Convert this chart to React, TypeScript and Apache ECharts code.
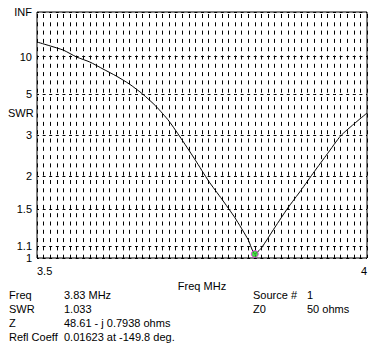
import React, { useEffect, useRef } from "react";
import * as echarts from "echarts";

// Frequency sweep (MHz) and SWR
const freqs = [
  3.5, 3.52, 3.54, 3.56, 3.58, 3.6, 3.62, 3.64, 3.66, 3.68, 3.7, 3.72, 3.74,
  3.76, 3.78, 3.8, 3.82, 3.83, 3.84, 3.86, 3.88, 3.9, 3.92, 3.94, 3.96, 3.98, 4.0,
];
const swrValues = [
  15.4, 13.5, 11.9, 9.93, 8.84, 7.63, 6.69, 5.83, 5.0, 4.23, 3.51, 2.84, 2.32,
  1.91, 1.63, 1.39, 1.16, 1.033, 1.085, 1.28, 1.51, 1.76, 2.08, 2.47, 2.97, 3.39, 3.87,
];

// SWR tick labels on the left axis (INF = infinite)
const swrTickLabels = ["INF", "10", "5", "3", "2", "1.5", "1.1", "1"];
const freqTickLabels = [3.5, 4];

// Marker
const markerFreq = 3.83;
const markerSwr = 1.033;

// Readout block
const readoutLabels = ["Freq", "SWR", "Z", "Refl Coeff"];
const readoutValues = ["3.83 MHz", "1.033", "48.61 - j 0.7938 ohms", "0.01623 at -149.8 deg."];
const sourceLabels = ["Source #", "Z0"];
const sourceValues = ["1", "50 ohms"];

const toRho = (s: number | string) => {
  if (s === "INF") return 1;
  const v = Number(s);
  return (v - 1) / (v + 1);
};

export default function App() {
  const ref = useRef<HTMLDivElement>(null);
  useEffect(() => {
    if (!ref.current) return;
    const chart = echarts.init(ref.current, null, { renderer: "svg" });
    const tickRho = swrTickLabels.map(toRho);
    const font = "'Liberation Sans', Arial, sans-serif";
    const txt = (x: number, y: number, text: string) => ({
      type: "text",
      x,
      y,
      style: { text, fill: "#000", font: `11px ${font}`, verticalAlign: "middle", align: "left" },
    });
    const rowY = [295, 309, 323, 337];
    const graphics: any[] = [txt(8, 113, "SWR")];
    readoutLabels.forEach((l, i) => graphics.push(txt(9, rowY[i], l)));
    readoutValues.forEach((l, i) => graphics.push(txt(64, rowY[i], l)));
    sourceLabels.forEach((l, i) => graphics.push(txt(253, rowY[i], l)));
    sourceValues.forEach((l, i) => graphics.push(txt(307, rowY[i], l)));

    chart.setOption({
      animation: false,
      backgroundColor: "#fff",
      textStyle: { fontFamily: font },
      grid: {
        left: 37,
        top: 12,
        right: 10,
        bottom: 93,
        show: true,
        borderColor: "#000",
        borderWidth: 1,
        backgroundColor: "#fff",
      },
      xAxis: {
        type: "value",
        min: 3.5,
        max: 4,
        interval: 0.01,
        name: "Freq MHz",
        nameLocation: "middle",
        nameGap: 7,
        nameTextStyle: { color: "#000", fontSize: 11, verticalAlign: "top" },
        axisLine: { show: false },
        axisTick: { show: false },
        axisLabel: {
          customValues: freqTickLabels,
          color: "#000",
          fontSize: 11,
          margin: 7,
          alignMinLabel: "left",
          alignMaxLabel: "right",
          formatter: (v: number) => String(Math.round(v * 100) / 100),
        },
        splitLine: {
          show: true,
          lineStyle: { color: "#000", width: 1, type: [4, 4.3], dashOffset: -2 },
        },
      },
      yAxis: {
        type: "value",
        min: 0,
        max: 1,
        axisLine: { show: false },
        axisTick: { show: false, customValues: tickRho },
        axisLabel: {
          customValues: tickRho,
          color: "#000",
          fontSize: 11,
          margin: 5,
          formatter: (v: number) => {
            const i = tickRho.findIndex((r) => Math.abs(r - v) < 1e-6);
            return i >= 0 ? swrTickLabels[i] : "";
          },
        },
        splitLine: {
          show: true,
          lineStyle: { color: "#000", width: 1, type: [3, 3.6], dashOffset: 1 },
        },
      },
      series: [
        {
          type: "line",
          data: freqs.map((f, i) => [f, toRho(swrValues[i])]),
          showSymbol: false,
          smooth: 0.2,
          lineStyle: { color: "#000", width: 1 },
          z: 3,
        },
        {
          type: "scatter",
          data: [[markerFreq, toRho(markerSwr)]],
          symbol: "circle",
          symbolSize: 7,
          itemStyle: { color: "#22cc22", borderColor: "#ee22ee", borderWidth: 1 },
          z: 4,
        },
      ],
      graphic: graphics,
    });
    return () => chart.dispose();
  }, []);
  return (
    <div
      ref={ref}
      style={{ position: "fixed", left: 0, top: 0, width: 377, height: 351, background: "#fff" }}
    />
  );
}
